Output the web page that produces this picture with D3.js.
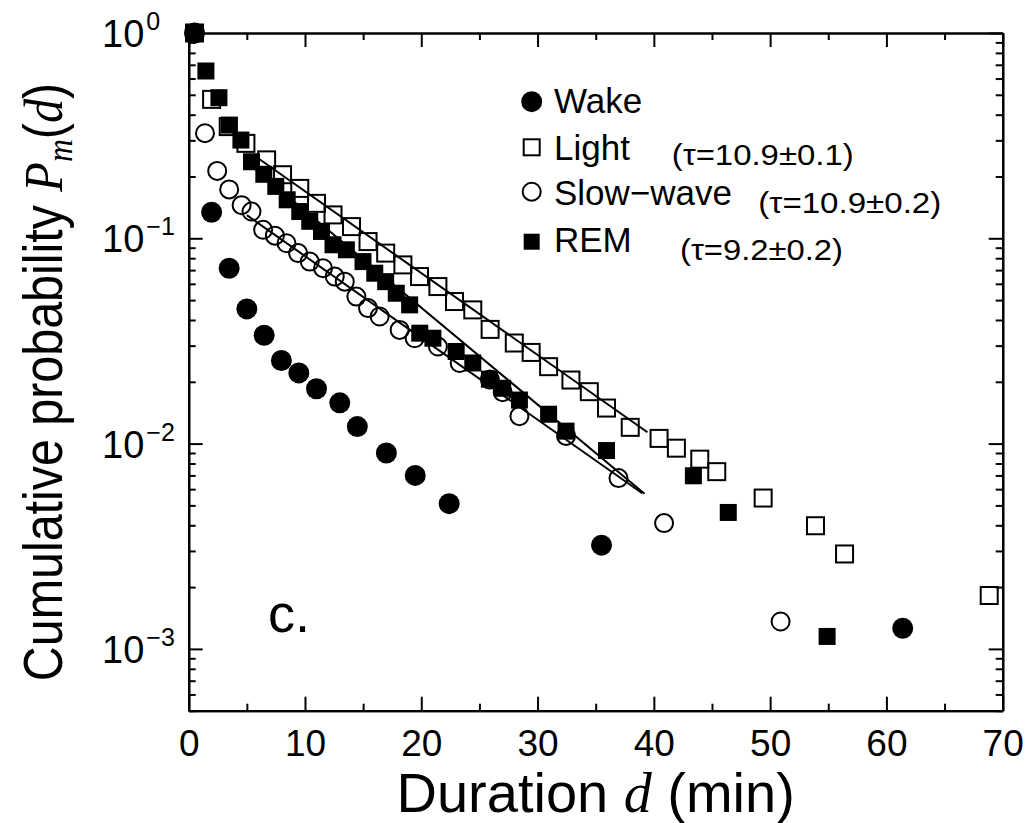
<!DOCTYPE html>
<html><head><meta charset="utf-8">
<script src="https://cdn.jsdelivr.net/npm/d3@7"></script>
<style>
html,body{margin:0;padding:0;background:#fff;}
svg{display:block;font-family:"Liberation Sans",Arial,Helvetica,sans-serif;}
</style></head>
<body>
<svg id="chart" width="1025" height="823"></svg>
<script>
// ---------------- DATA ----------------
const wakeD  = [0.5, 1.97, 3.48, 5.0, 6.49, 7.97, 9.47, 10.99, 12.99, 14.5, 17.0, 19.48, 22.4, 35.5, 61.4];
const wakeP  = [1.0, 0.134, 0.0715, 0.0453, 0.0337, 0.0254, 0.0221, 0.0185, 0.0158, 0.0121, 0.0090, 0.0070, 0.0051, 0.0032, 0.00126];

const lightD = [0.5, 1.97, 3.4, 4.92, 6.7, 8.07, 9.55, 10.99, 12.41, 14.0, 15.42, 16.94, 18.42, 19.85, 21.43, 22.86, 24.43, 25.92, 28.0, 29.45, 30.95, 32.87, 34.45, 35.93, 37.97, 40.45, 41.94, 43.95, 45.41, 49.4, 53.9, 56.4, 68.84];
const lightP = [1.0, 0.475, 0.35, 0.29, 0.241, 0.204, 0.175, 0.148, 0.130, 0.114, 0.0964, 0.0847, 0.0742, 0.0651, 0.0582, 0.0492, 0.0448, 0.0360, 0.0309, 0.0278, 0.0237, 0.0204, 0.0179, 0.0149, 0.0120, 0.0106, 0.0095, 0.0084, 0.0073, 0.00543, 0.00398, 0.0029, 0.00182];

const slowD  = [0.5, 1.4, 2.45, 3.48, 4.55, 5.4, 6.4, 7.41, 8.41, 9.41, 10.41, 11.55, 12.56, 13.42, 14.42, 15.42, 16.42, 18.14, 19.43, 21.43, 23.3, 25.9, 27.0, 28.44, 32.45, 36.96, 40.88, 50.9];
const slowP  = [1.0, 0.325, 0.213, 0.173, 0.145, 0.135, 0.110, 0.103, 0.0946, 0.0847, 0.0770, 0.0715, 0.0651, 0.0615, 0.0520, 0.0457, 0.0416, 0.0358, 0.0326, 0.0297, 0.0247, 0.0205, 0.0178, 0.0136, 0.0109, 0.00679, 0.0041, 0.00136];

const remD   = [0.5, 1.48, 2.6, 3.49, 4.49, 5.4, 6.46, 7.49, 8.47, 9.55, 10.41, 11.42, 12.41, 13.56, 14.99, 16.0, 16.94, 17.85, 19.0, 19.87, 21.0, 23.0, 24.43, 25.86, 27.0, 28.44, 30.95, 32.45, 35.93, 43.4, 46.4, 54.9];
const remP   = [1.0, 0.653, 0.484, 0.356, 0.301, 0.236, 0.205, 0.179, 0.154, 0.135, 0.121, 0.108, 0.093, 0.0879, 0.077, 0.0676, 0.0615, 0.054, 0.0474, 0.0345, 0.0326, 0.0281, 0.0247, 0.0206, 0.0186, 0.0163, 0.0139, 0.0115, 0.00925, 0.00697, 0.00462, 0.00115];

// fitted exponential lines (end points)
const fitNames = ["Light", "Slow-wave", "REM"];
const fitD0 = [6.0, 5.0, 5.0];
const fitP0 = [0.2446, 0.1296, 0.2346];
const fitD1 = [39.45, 39.0, 39.2];
const fitP1 = [0.01136, 0.00573, 0.0057];

const legendLabels = ["Wake", "Light", "Slow\u2212wave", "REM"];
const tauLabels = ["(\u03c4=10.9\u00b10.1)", "(\u03c4=10.9\u00b10.2)", "(\u03c4=9.2\u00b10.2)"];

const xTicks = [0, 10, 20, 30, 40, 50, 60, 70];
const xMinorTicks = [5, 15, 25, 35, 45, 55, 65];
const yMajorTicks = [1, 0.1, 0.01, 0.001];
const yMajorExp = ["0", "\u22121", "\u22122", "\u22123"];

// ---------------- LAYOUT ----------------
const L = 188.7, R = 1002.7, T = 33, B = 710.7;
const svg = d3.select("#chart");
const x = d3.scaleLinear().domain([0, 70]).range([L, R]);
const y = d3.scaleLog().domain([5e-4, 1]).range([B, T]);

const yMinorTicks = [];
[1e-4, 1e-3, 1e-2, 1e-1].forEach(dec => {
  for (let k = 2; k <= 9; k++) { const v = +(k * dec).toPrecision(3); if (v >= 5e-4 && v < 1) yMinorTicks.push(v); }
});

function styleAxis(g) {
  g.selectAll("path.domain").attr("stroke", "#000").attr("stroke-width", 2.2);
  g.selectAll(".tick line").attr("stroke", "#000").attr("stroke-width", 2);
}

// bottom
svg.append("g").attr("transform", `translate(0,${B})`)
  .call(d3.axisBottom(x).tickValues(xTicks).tickSize(-14).tickSizeOuter(0).tickPadding(19).tickFormat(d3.format("d")))
  .call(styleAxis)
  .call(g => g.selectAll("text").attr("font-size", 37).attr("fill", "#000").attr("font-family", "Liberation Sans, Arial, sans-serif"));
svg.append("g").attr("transform", `translate(0,${B})`)
  .call(d3.axisBottom(x).tickValues(xMinorTicks).tickSize(-7).tickSizeOuter(0).tickFormat(""))
  .call(styleAxis);
// top
svg.append("g").attr("transform", `translate(0,${T})`)
  .call(d3.axisTop(x).tickValues(xTicks).tickSize(-14).tickSizeOuter(0).tickFormat(""))
  .call(styleAxis);
svg.append("g").attr("transform", `translate(0,${T})`)
  .call(d3.axisTop(x).tickValues(xMinorTicks).tickSize(-7).tickSizeOuter(0).tickFormat(""))
  .call(styleAxis);
// left
svg.append("g").attr("transform", `translate(${L},0)`)
  .call(d3.axisLeft(y).tickValues(yMajorTicks).tickSize(-14).tickSizeOuter(0).tickFormat(""))
  .call(styleAxis);
svg.append("g").attr("transform", `translate(${L},0)`)
  .call(d3.axisLeft(y).tickValues(yMinorTicks).tickSize(-7).tickSizeOuter(0).tickFormat(""))
  .call(styleAxis);
// right
svg.append("g").attr("transform", `translate(${R},0)`)
  .call(d3.axisRight(y).tickValues(yMajorTicks).tickSize(-14).tickSizeOuter(0).tickFormat(""))
  .call(styleAxis);
svg.append("g").attr("transform", `translate(${R},0)`)
  .call(d3.axisRight(y).tickValues(yMinorTicks).tickSize(-7).tickSizeOuter(0).tickFormat(""))
  .call(styleAxis);

// y tick labels 10^n
yMajorTicks.forEach((v, i) => {
  const t = svg.append("text").attr("x", 102).attr("y", y(v) + 14)
    .attr("font-size", 38).attr("fill", "#000");
  t.append("tspan").text("10");
  t.append("tspan").attr("dy", -17).attr("font-size", 25).attr("dx", 2).text(yMajorExp[i]);
});

// ---------------- FIT LINES ----------------
const fitG = svg.append("g");
fitNames.forEach((n, i) => {
  fitG.append("line")
    .attr("x1", x(fitD0[i])).attr("y1", y(fitP0[i]))
    .attr("x2", x(fitD1[i])).attr("y2", y(fitP1[i]))
    .attr("stroke", "#000").attr("stroke-width", 2);
});

// ---------------- MARKERS ----------------
const SQ = 17, RC = 10;
const lightData = lightD.map((d, i) => [d, lightP[i]]);
const slowData = slowD.map((d, i) => [d, slowP[i]]);
const remData = remD.map((d, i) => [d, remP[i]]);
const wakeData = wakeD.map((d, i) => [d, wakeP[i]]);

svg.append("g").selectAll("rect").data(lightData).join("rect")
  .attr("x", d => x(d[0]) - SQ / 2).attr("y", d => y(d[1]) - SQ / 2)
  .attr("width", SQ).attr("height", SQ)
  .attr("fill", "none").attr("stroke", "#000").attr("stroke-width", 2);
svg.append("g").selectAll("circle").data(slowData).join("circle")
  .attr("cx", d => x(d[0])).attr("cy", d => y(d[1])).attr("r", RC - 1)
  .attr("fill", "none").attr("stroke", "#000").attr("stroke-width", 2);
svg.append("g").selectAll("rect").data(remData).join("rect")
  .attr("x", d => x(d[0]) - SQ / 2).attr("y", d => y(d[1]) - SQ / 2)
  .attr("width", SQ).attr("height", SQ).attr("fill", "#000");
svg.append("g").selectAll("circle").data(wakeData).join("circle")
  .attr("cx", d => x(d[0])).attr("cy", d => y(d[1])).attr("r", RC + 0.5)
  .attr("fill", "#000");

// ---------------- LEGEND ----------------
const legY = [101.7, 147.3, 191.7, 241.7];
const legBase = [113.3, 160, 205, 251.7];
const lg = svg.append("g");
lg.append("circle").attr("cx", 531.7).attr("cy", legY[0]).attr("r", 10.5).attr("fill", "#000");
lg.append("rect").attr("x", 531.7 - 8).attr("y", legY[1] - 8).attr("width", 16).attr("height", 16)
  .attr("fill", "none").attr("stroke", "#000").attr("stroke-width", 2);
lg.append("circle").attr("cx", 531.7).attr("cy", legY[2]).attr("r", 9).attr("fill", "none").attr("stroke", "#000").attr("stroke-width", 2);
lg.append("rect").attr("x", 531.7 - 8).attr("y", legY[3] - 8).attr("width", 16).attr("height", 16).attr("fill", "#000");
legendLabels.forEach((s, i) => {
  lg.append("text").attr("x", 554).attr("y", legBase[i]).attr("font-size", 35).attr("fill", "#000").text(s);
});
const tauX = [671.7, 758.3, 680];
const tauY = [165, 213.3, 260];
const tauW = [182, 183, 163];
tauLabels.forEach((s, i) => {
  lg.append("text").attr("x", tauX[i]).attr("y", tauY[i]).attr("font-size", 29).attr("fill", "#000")
    .attr("textLength", tauW[i]).attr("lengthAdjust", "spacingAndGlyphs").text(s);
});

// panel label
svg.append("text").attr("x", 268).attr("y", 631.7).attr("font-size", 54).attr("fill", "#000").text("c.");

// ---------------- AXIS TITLES ----------------
const xt = svg.append("text").attr("x", (L + R) / 2).attr("y", 812).attr("text-anchor", "middle")
  .attr("font-size", 56).attr("fill", "#000");
xt.append("tspan").text("Duration ");
xt.append("tspan").attr("font-family", "Liberation Serif, Times New Roman, serif").attr("font-style", "italic").text("d");
xt.append("tspan").text(" (min)");

const yt = svg.append("text").attr("transform", `translate(62,382) rotate(-90) scale(0.88,1)`)
  .attr("text-anchor", "middle").attr("font-size", 55).attr("fill", "#000");
yt.append("tspan").text("Cumulative probability ");
yt.append("tspan").attr("font-family", "Liberation Serif, Times New Roman, serif").attr("font-style", "italic").text("P");
yt.append("tspan").attr("font-family", "Liberation Serif, Times New Roman, serif").attr("font-style", "italic")
  .attr("font-size", 36).attr("dy", 10).text("m");
yt.append("tspan").attr("dy", -10).text("(");
yt.append("tspan").attr("font-family", "Liberation Serif, Times New Roman, serif").attr("font-style", "italic").text("d");
yt.append("tspan").text(")");
</script>
</body></html>
